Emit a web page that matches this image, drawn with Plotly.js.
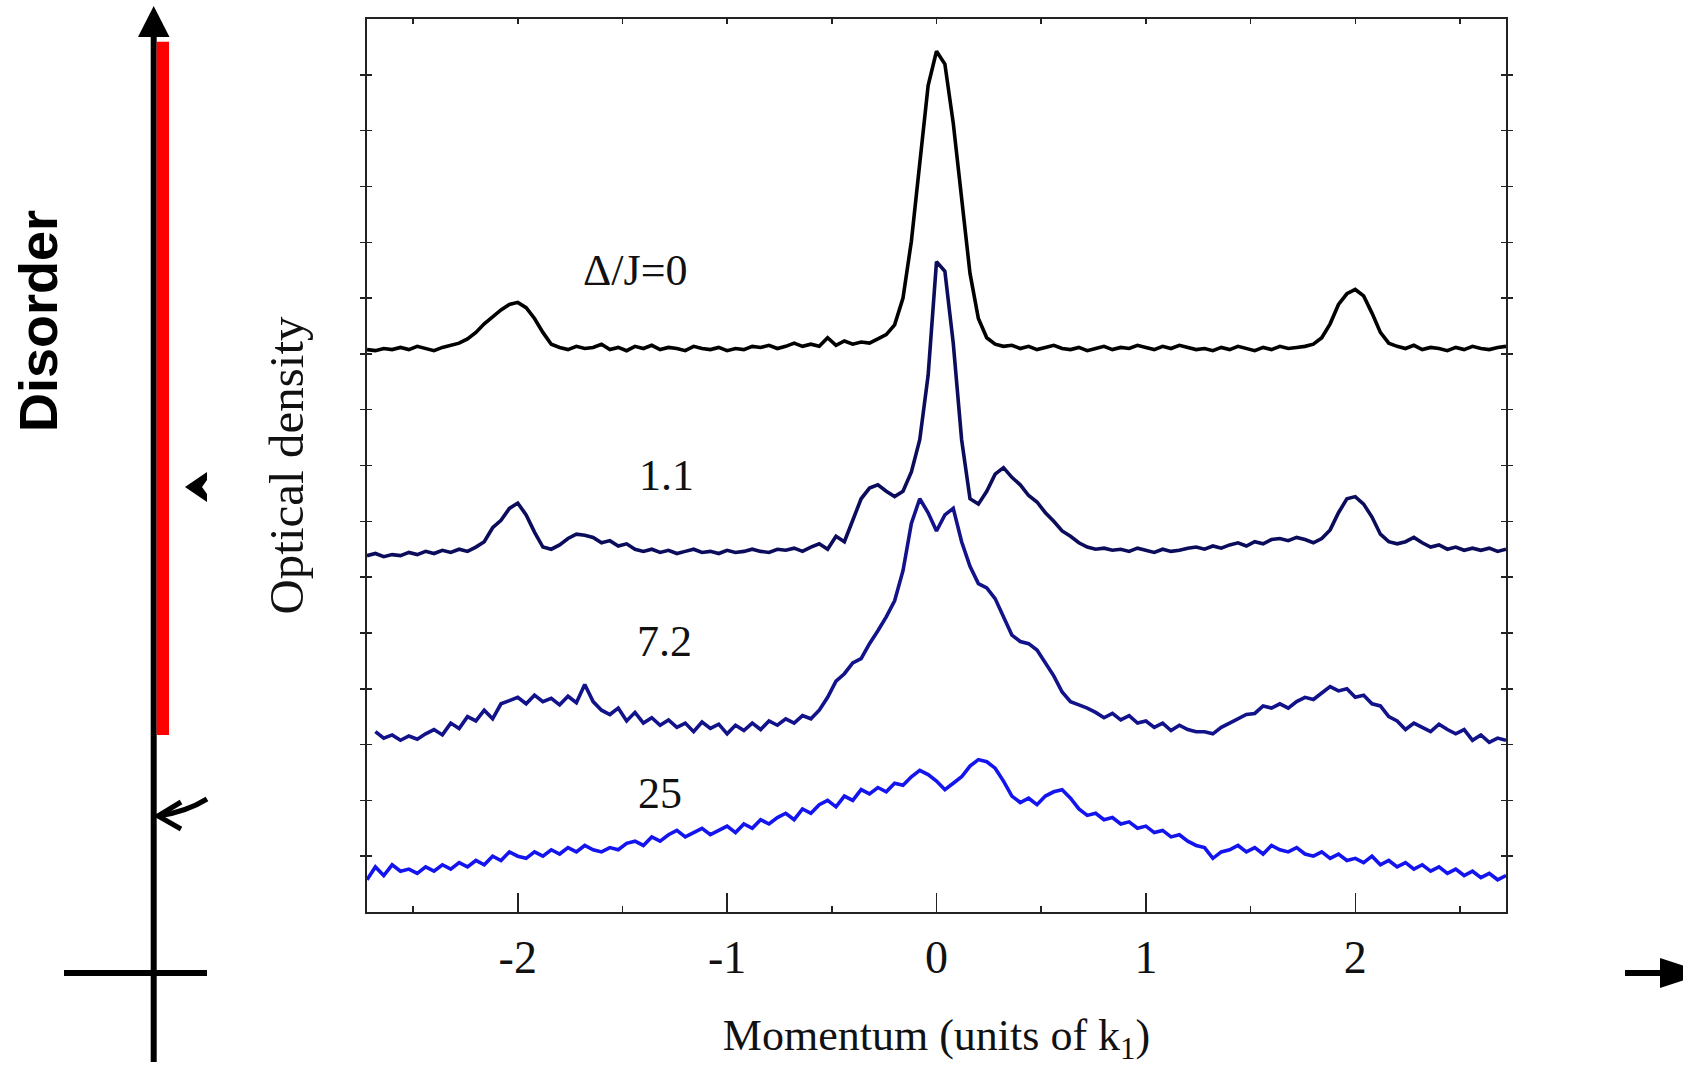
<!DOCTYPE html>
<html><head><meta charset="utf-8">
<script src="https://cdn.plot.ly/plotly-3.0.1.min.js"></script>
<style>html,body{margin:0;padding:0;background:#fff}#chart{width:1683px;height:1066px}</style>
</head><body><div id="chart"></div>
<script>
// Momentum sampling (units of k1)
const momentum = [-2.72,-2.68,-2.64,-2.60,-2.56,-2.52,-2.48,-2.44,-2.40,-2.36,-2.32,-2.28,-2.24,-2.20,-2.16,-2.12,-2.08,-2.04,-2.00,-1.96,-1.92,-1.88,-1.84,-1.80,-1.76,-1.72,-1.68,-1.64,-1.60,-1.56,-1.52,-1.48,-1.44,-1.40,-1.36,-1.32,-1.28,-1.24,-1.20,-1.16,-1.12,-1.08,-1.04,-1.00,-0.96,-0.92,-0.88,-0.84,-0.80,-0.76,-0.72,-0.68,-0.64,-0.60,-0.56,-0.52,-0.48,-0.44,-0.40,-0.36,-0.32,-0.28,-0.24,-0.20,-0.16,-0.12,-0.08,-0.04,0.00,0.04,0.08,0.12,0.16,0.20,0.24,0.28,0.32,0.36,0.40,0.44,0.48,0.52,0.56,0.60,0.64,0.68,0.72,0.76,0.80,0.84,0.88,0.92,0.96,1.00,1.04,1.08,1.12,1.16,1.20,1.24,1.28,1.32,1.36,1.40,1.44,1.48,1.52,1.56,1.60,1.64,1.68,1.72,1.76,1.80,1.84,1.88,1.92,1.96,2.00,2.04,2.08,2.12,2.16,2.20,2.24,2.28,2.32,2.36,2.40,2.44,2.48,2.52,2.56,2.60,2.64,2.68,2.72];

// Optical density (arbitrary units, curves offset vertically)
const odDisorder0 = [524,523,525,524,526,524,527,525,523,526,
 528,530,534,540,548,555,561,566,568,563,
 553,540,529,526,524,527,525,526,529,524,
 526,523,527,525,528,524,526,525,523,527,
 525,524,526,523,525,524,527,526,528,525,
 527,530,527,529,527,535,528,532,529,531,
 530,534,538,547,572,625,700,770,802,790,
 735,665,595,553,535,529,527,528,525,527,
 524,526,528,525,524,526,523,525,527,524,
 526,525,528,526,524,527,525,528,526,524,
 525,523,526,524,527,525,523,526,524,527,
 525,526,527,529,535,548,566,576,580,574,
 558,540,530,527,525,528,524,526,525,523,
 526,524,527,525,524,526,527];

const odDisorder1_1 = [332,334,331,333,332,335,333,336,334,337,
 335,338,336,340,345,358,365,376,381,370,
 354,340,338,342,348,352,351,349,344,346,
 341,343,338,336,338,335,337,334,336,338,
 335,336,334,337,335,336,338,336,335,338,
 337,339,336,340,343,338,350,345,365,385,
 395,398,392,387,392,410,440,500,606,597,
 530,440,385,380,392,408,414,405,398,388,
 382,372,364,355,350,344,340,338,339,337,
 338,336,339,337,335,338,336,337,339,340,
 338,341,339,342,344,341,345,343,347,348,
 346,349,347,344,348,356,372,385,387,380,
 368,352,345,343,345,349,344,340,342,338,
 340,337,339,337,339,336,338];

const odDisorder7_2 = [null,168,162,165,160,164,161,166,170,165,
 176,171,182,178,188,180,194,197,200,194,
 202,196,199,193,201,195,212,196,188,184,
 190,178,186,176,181,174,179,172,176,168,
 177,171,175,166,174,169,176,170,178,174,
 180,176,183,180,188,200,215,222,232,236,
 250,262,275,290,318,362,385,372,355,370,
 376,345,322,306,302,292,275,258,252,250,
 244,232,220,205,196,193,190,186,181,185,
 179,183,176,178,172,176,169,174,170,168,
 168,166,172,176,180,184,185,192,190,194,
 190,196,200,198,204,210,206,208,200,202,
 194,192,182,178,170,176,172,168,175,170,
 166,170,160,165,158,162,160];

const odDisorder25 = [30,42,34,44,38,40,36,42,38,44,
 40,46,42,48,44,52,48,56,52,50,
 56,52,58,54,60,56,62,58,56,60,
 58,64,66,62,70,66,72,76,70,74,
 78,72,76,80,74,82,78,86,82,88,
 92,86,96,92,100,104,98,108,104,114,
 110,116,112,120,118,126,132,128,122,114,
 120,126,136,142,140,134,122,108,102,106,
 100,108,112,114,106,96,90,92,86,88,
 82,84,78,80,74,76,70,72,66,62,
 60,50,56,58,62,56,60,54,62,58,
 56,60,54,52,56,50,54,48,50,46,
 52,44,48,42,46,40,44,38,42,36,
 40,34,38,32,36,30,34];

const seriesNames = ['Δ/J=0', '1.1', '7.2', '25'];
const seriesColors = ['#000000', '#0c0c5c', '#12128a', '#1414ee'];
const labelX = [-1.44, -1.29, -1.30, -1.32];
const labelY = [598, 407, 252, 110];
const xTickVals = [-2, -1, 0, 1, 2];
const xTickText = ['-2', '-1', '0', '1', '2'];
const xMinorVals = [-2.5, -1.5, -0.5, 0.5, 1.5, 2.5];
const xTopTickVals = [-2.5, -2, -1.5, -1, -0.5, 0, 0.5, 1, 1.5, 2, 2.5];

const seriesData = [odDisorder0, odDisorder1_1, odDisorder7_2, odDisorder25];
const traces = seriesData.map((ys, i) => ({
  type: 'scatter', mode: 'lines', x: momentum, y: ys, name: seriesNames[i],
  line: {color: seriesColors[i], width: 3.6}, hoverinfo: 'skip', connectgaps: false
}));
// empty carrier so the top tick axis is drawn
traces.push({type: 'scatter', mode: 'lines', x: [null], y: [null], xaxis: 'x2', yaxis: 'y', showlegend: false, hoverinfo: 'skip'});

// pixel -> paper helpers for the decorative slide elements
const L = 367, R = 1506, T = 19, B = 912;
const PX = X => (X - L) / (R - L);
const PY = Y => (B - Y) / (B - T);
const P = (X, Y) => PX(X).toFixed(5) + ',' + PY(Y).toFixed(5);
const base = {xref: 'paper', yref: 'paper', layer: 'above'};

const shapes = [
  Object.assign({type: 'line', x0: PX(153.7), x1: PX(153.7), y0: PY(34), y1: PY(1062), line: {color: '#000', width: 6}}, base),
  Object.assign({type: 'path', path: `M${P(153.7,6)} L${P(138,37)} L${P(169.5,37)} Z`, fillcolor: '#000', line: {width: 0}}, base),
  Object.assign({type: 'rect', x0: PX(156.7), x1: PX(169), y0: PY(735), y1: PY(41.7), fillcolor: '#ff0000', line: {width: 0}}, base),
  Object.assign({type: 'line', x0: PX(64), x1: PX(207), y0: PY(973), y1: PY(973), line: {color: '#000', width: 6}}, base),
  Object.assign({type: 'path', path: `M${P(185,487)} L${P(207,472)} L${P(207,480)} L${P(202,487)} L${P(207,494)} L${P(207,502)} Z`, fillcolor: '#000', line: {width: 0}}, base),
  Object.assign({type: 'path', path: `M${P(207,799)} Q${P(186,812)} ${P(158,816)}`, fillcolor: 'rgba(0,0,0,0)', line: {color: '#000', width: 5}}, base),
  Object.assign({type: 'path', path: `M${P(181,802)} L${P(158,816)} L${P(181,829)}`, fillcolor: 'rgba(0,0,0,0)', line: {color: '#000', width: 5}}, base),
  Object.assign({type: 'rect', x0: PX(1625), x1: PX(1662), y0: PY(976), y1: PY(970), fillcolor: '#000', line: {width: 0}}, base),
  Object.assign({type: 'path', path: `M${P(1660,958)} L${P(1706,973)} L${P(1660,988)} Z`, fillcolor: '#000', line: {width: 0}}, base)
];

const serif = '"Liberation Serif", "Times New Roman", Times, serif';
const annotations = seriesNames.map((t, i) => ({
  x: labelX[i], y: labelY[i], xref: 'x', yref: 'y', text: t, showarrow: false,
  font: {family: serif, size: 44, color: '#111'}, xanchor: 'center', yanchor: 'middle'
}));
annotations.push({
  xref: 'paper', yref: 'paper', x: PX(38), y: PY(321), text: '<b>Disorder</b>', showarrow: false,
  textangle: -90, font: {family: '"Liberation Sans", Arial, Helvetica, sans-serif', size: 54, color: '#000'},
  xanchor: 'center', yanchor: 'middle'
});

const layout = {
  width: 1683, height: 1066,
  paper_bgcolor: '#ffffff', plot_bgcolor: '#ffffff',
  margin: {l: L, r: 1683 - R, t: T, b: 1066 - B},
  showlegend: false,
  font: {family: serif, color: '#111', size: 44},
  xaxis: {
    range: [-2.72, 2.72], tickmode: 'array', tickvals: xTickVals, ticktext: xTickText,
    ticks: 'inside', ticklen: 19, tickwidth: 1.5, tickcolor: '#222',
    minor: {tickmode: 'array', tickvals: xMinorVals, ticks: 'inside', ticklen: 6, tickwidth: 1.5, tickcolor: '#222'},
    showline: true, linecolor: '#222', linewidth: 2, mirror: true,
    showgrid: false, zeroline: false,
    tickfont: {family: serif, size: 46, color: '#111'}, ticklabelstandoff: 4,
    title: {text: 'Momentum (units of k<sub>1</sub>)', font: {family: serif, size: 44, color: '#111'}, standoff: 43}
  },
  xaxis2: {
    overlaying: 'x', side: 'top', anchor: 'y', range: [-2.72, 2.72],
    tickmode: 'array', tickvals: xTopTickVals, ticks: 'inside', ticklen: 5, tickwidth: 1.5, tickcolor: '#222',
    showticklabels: false, showline: false, showgrid: false, zeroline: false
  },
  yaxis: {
    range: [0, 832], tick0: 0, dtick: 52, ticks: 'inside', ticklen: 5, tickwidth: 1.5, tickcolor: '#222',
    showticklabels: false, showline: true, linecolor: '#222', linewidth: 2, mirror: 'allticks',
    showgrid: false, zeroline: false,
    title: {text: 'Optical density', font: {family: serif, size: 49, color: '#111'}, standoff: 46}
  },
  shapes: shapes,
  annotations: annotations
};

Plotly.newPlot('chart', traces, layout, {staticPlot: true, displayModeBar: false});
</script>
</body></html>
